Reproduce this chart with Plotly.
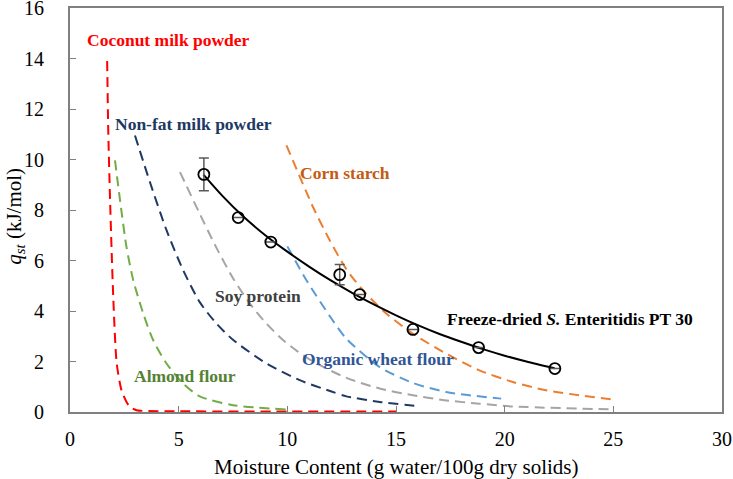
import plotly.graph_objects as go

# Freeze-dried S. Enteritidis PT 30 measured points
fd_x = [6.16, 7.74, 9.24, 12.41, 13.33, 15.78, 18.80, 22.31]
fd_y = [9.41, 7.70, 6.73, 5.44, 4.65, 3.27, 2.55, 1.72]
fd_err = [0.65, 0.0, 0.0, 0.40, 0.0, 0.0, 0.0, 0.0]

# Fitted curve for freeze-dried sample
fit_x = [6.14, 7.0, 8.0, 9.0, 10.0, 11.0, 12.0, 13.0, 14.0, 15.0, 16.0, 17.0, 18.0, 19.0, 20.0, 21.0, 22.3]
fit_y = [9.40, 8.57, 7.72, 6.99, 6.35, 5.76, 5.21, 4.71, 4.25, 3.83, 3.44, 3.09, 2.78, 2.49, 2.23, 2.00, 1.73]

# Literature curves
coco_x = [1.71, 1.76, 1.84, 1.99, 2.15, 2.37, 2.6, 2.76, 3.06, 5.0, 10.0, 15.0]
coco_y = [13.9, 11.15, 8.5, 4.55, 1.92, 0.86, 0.4, 0.2, 0.07, 0.03, 0.02, 0.02]

almond_x = [2.07, 2.3, 2.6, 2.91, 3.37, 3.83, 4.44, 5.21, 5.97, 7.5, 9.96]
almond_y = [9.97, 8.4, 6.53, 5.22, 3.9, 2.84, 1.92, 1.12, 0.62, 0.27, 0.1]

nonfat_x = [2.99, 3.68, 4.44, 5.21, 5.97, 6.74, 7.5, 9.04, 10.57, 12.0, 12.72, 14.25, 16.0]
nonfat_y = [10.95, 9.1, 7.2, 5.61, 4.35, 3.5, 2.86, 1.92, 1.26, 0.82, 0.62, 0.40, 0.23]

soy_x = [5.06, 5.97, 6.74, 7.5, 8.27, 9.04, 9.8, 10.5, 11.18, 12.72, 14.25, 15.78, 17.31, 18.84, 20.37, 25.0]
soy_y = [9.5, 7.85, 6.5, 5.3, 4.3, 3.5, 2.85, 2.38, 2.0, 1.35, 0.93, 0.66, 0.46, 0.33, 0.22, 0.1]

wheat_x = [10.0, 10.88, 11.95, 12.72, 14.25, 15.78, 17.31, 19.84]
wheat_y = [6.56, 5.22, 3.8, 2.9, 1.78, 1.15, 0.79, 0.53]

corn_x = [9.96, 11.18, 11.95, 12.72, 13.48, 14.55, 15.78, 17.31, 18.84, 20.37, 21.9, 25.0]
corn_y = [10.56, 8.12, 6.8, 5.65, 4.82, 3.9, 3.1, 2.31, 1.65, 1.19, 0.86, 0.49]

# Labels
label_text = ["Coconut milk powder", "Non-fat milk powder", "Corn starch", "Soy protein",
              "Organic wheat flour", "Almond flour", "Freeze-dried <i>S.</i> Enteritidis PT 30"]
label_x = [0.68, 1.98, 10.49, 6.56, 10.57, 2.83, 17.25]
label_y = [14.74, 11.39, 9.47, 4.6, 2.11, 1.43, 3.7]
label_color = ["#FF0000", "#203864", "#C55A11", "#404040", "#2F5597", "#548235", "#000000"]

x_ticks = [0, 5, 10, 15, 20, 25, 30]
y_ticks = [0, 2, 4, 6, 8, 10, 12, 14, 16]

FONT = "Liberation Serif, Times New Roman, serif"

fig = go.Figure()

def dashed(x, y, color):
    fig.add_trace(go.Scatter(x=x, y=y, mode="lines",
                             line=dict(color=color, width=2, dash="10px,6px", shape="spline", smoothing=0.7),
                             hoverinfo="skip", showlegend=False))

dashed(coco_x, coco_y, "#FF0000")
dashed(almond_x, almond_y, "#70AD47")
dashed(nonfat_x, nonfat_y, "#203864")
dashed(soy_x, soy_y, "#A5A5A5")
dashed(wheat_x, wheat_y, "#5B9BD5")
dashed(corn_x, corn_y, "#ED7D31")

fig.add_trace(go.Scatter(x=fit_x, y=fit_y, mode="lines",
                         line=dict(color="black", width=2, shape="spline", smoothing=0.7),
                         showlegend=False))
fig.add_trace(go.Scatter(x=fd_x, y=fd_y, mode="markers",
                         marker=dict(symbol="circle-open", size=11, color="black", line=dict(width=1.8, color="black")),
                         error_y=dict(type="data", array=fd_err, visible=True, color="#595959", thickness=1.5, width=5),
                         showlegend=False))

for t, x, y, c in zip(label_text, label_x, label_y, label_color):
    fig.add_annotation(x=x, y=y, text="<b>" + t + "</b>", showarrow=False, xanchor="left", yanchor="middle",
                       font=dict(family=FONT, size=17.5, color=c))

# Axis titles as annotations in paper coordinates
fig.add_annotation(xref="paper", yref="paper", x=0.5, y=-0.135, yanchor="middle", xanchor="center",
                   text="Moisture Content (g water/100g dry solids)", showarrow=False,
                   font=dict(family=FONT, size=21, color="black"))
fig.add_annotation(xref="paper", yref="paper", x=-0.085, y=0.485, xanchor="center", yanchor="middle",
                   text="<i>q<sub>st</sub></i> (kJ/mol)", showarrow=False, textangle=-90,
                   font=dict(family=FONT, size=21, color="black"))

fig.update_layout(
    width=733, height=479,
    margin=dict(l=70, r=11, t=8, b=67, autoexpand=False),
    plot_bgcolor="white", paper_bgcolor="white",
    font=dict(family=FONT, size=20, color="black"),
)
fig.update_xaxes(range=[0, 30], tickvals=x_ticks, ticks="inside", ticklen=6, tickcolor="#808080", tickwidth=1.2,
                 showline=True, linecolor="#808080", linewidth=1.8, mirror=True, showgrid=False, zeroline=False,
                 automargin=False, ticklabelstandoff=8, ticklabeloverflow="allow", tickfont=dict(size=20))
fig.update_yaxes(range=[0, 16], tickvals=y_ticks, ticks="inside", ticklen=6, tickcolor="#808080", tickwidth=1.2,
                 showline=True, linecolor="#808080", linewidth=1.8, mirror=True, showgrid=False, zeroline=False,
                 automargin=False, ticklabelstandoff=20, ticklabeloverflow="allow", tickfont=dict(size=20))

fig.write_html("out.html", config={"displayModeBar": False},
               post_script="document.body.style.margin='0';document.body.style.overflow='hidden';")
